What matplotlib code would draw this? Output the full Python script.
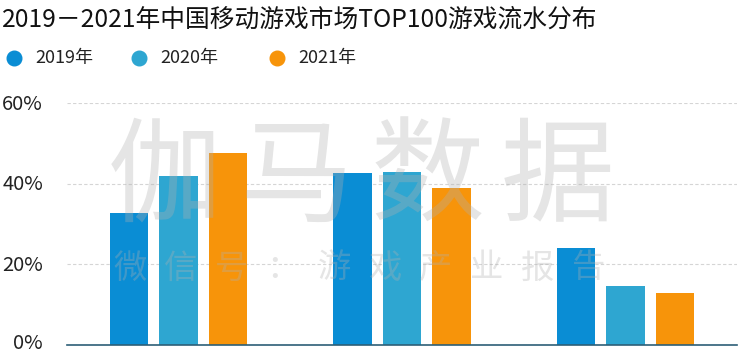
import matplotlib
matplotlib.use("Agg")
import matplotlib.pyplot as plt
from matplotlib.lines import Line2D
from matplotlib.transforms import ScaledTranslation
import numpy as np

plt.rcParams['font.family'] = ['Noto Sans CJK SC', 'DejaVu Sans']

title = "2019－2021年中国移动游戏市场TOP100游戏流水分布"
categories = ["A", "B", "C"]
series_names = ["2019年", "2020年", "2021年"]
v2019 = [32.7, 42.6, 24.1]
v2020 = [41.9, 42.9, 14.7]
v2021 = [47.6, 39.0, 12.8]
yticks = [0, 20, 40, 60]
colors = ["#0a8dd4", "#2ea6d1", "#f7940a"]

W, H = 752, 355
fig = plt.figure(figsize=(W / 100, H / 100), dpi=100)
ax = fig.add_axes([67 / W, 10 / H, (737 - 67) / W, (345 - 103) / H])

x = np.arange(len(categories))
width = 0.172
offset = 0.222
for i, (vals, c) in enumerate(zip([v2019, v2020, v2021], colors)):
    ax.bar(x + (i - 1) * offset, vals, width, color=c, zorder=2)

ax.set_xlim(-0.5, 2.5)
ax.set_ylim(0, 60)
ax.set_yticks(yticks)
ax.set_yticklabels([])
ax.set_xticks([])
ax.tick_params(axis="y", length=0)
for t in yticks:
    off = 4 if t == 0 else 6.5
    tr = ax.get_yaxis_transform() + ScaledTranslation(0, -off / 100, fig.dpi_scale_trans)
    ax.text(-24 / 670, t, f"{t}%", transform=tr, ha="right", va="baseline",
            fontsize=14.5, color="#222222", clip_on=False)
for s in ["top", "right", "left"]:
    ax.spines[s].set_visible(False)
ax.spines["bottom"].set_color("#2d5f77")
ax.spines["bottom"].set_linewidth(1.2)
ax.spines["bottom"].set_zorder(3)
ax.yaxis.grid(True, linestyle=(0, (3, 2)), color="#d5d5d5", linewidth=0.8, zorder=0)
ax.set_axisbelow(True)

# Title
fig.text(2 / W, 1 - 20 / H, title, fontsize=17.8, color="#111111", va="center", ha="left")

# Legend
leg_x = [14, 139, 277]
for lx, name, c in zip(leg_x, series_names, colors):
    fig.add_artist(Line2D([lx / W], [1 - 58 / H], marker="o", markersize=10.5,
                          color=c, transform=fig.transFigure))
    fig.text((lx + 21) / W, 1 - 58 / H, name, fontsize=13, color="#222222",
             va="center", ha="left")

# Watermark
wm_big = "伽马数据"
for i, ch in enumerate(wm_big):
    fig.text((165 + i * 131) / W, 1 - 180 / H, ch, fontsize=82, color="#b0b0b0",
             alpha=0.33, ha="center", va="center", zorder=5)
wm_small = "微信号：游戏产业报告"
for i, ch in enumerate(wm_small):
    fig.text((130 + i * 51) / W, 1 - 268 / H, ch, fontsize=24, color="#b0b0b0",
             alpha=0.33, ha="center", va="center", zorder=5)

fig.savefig("out.png", dpi=100)
